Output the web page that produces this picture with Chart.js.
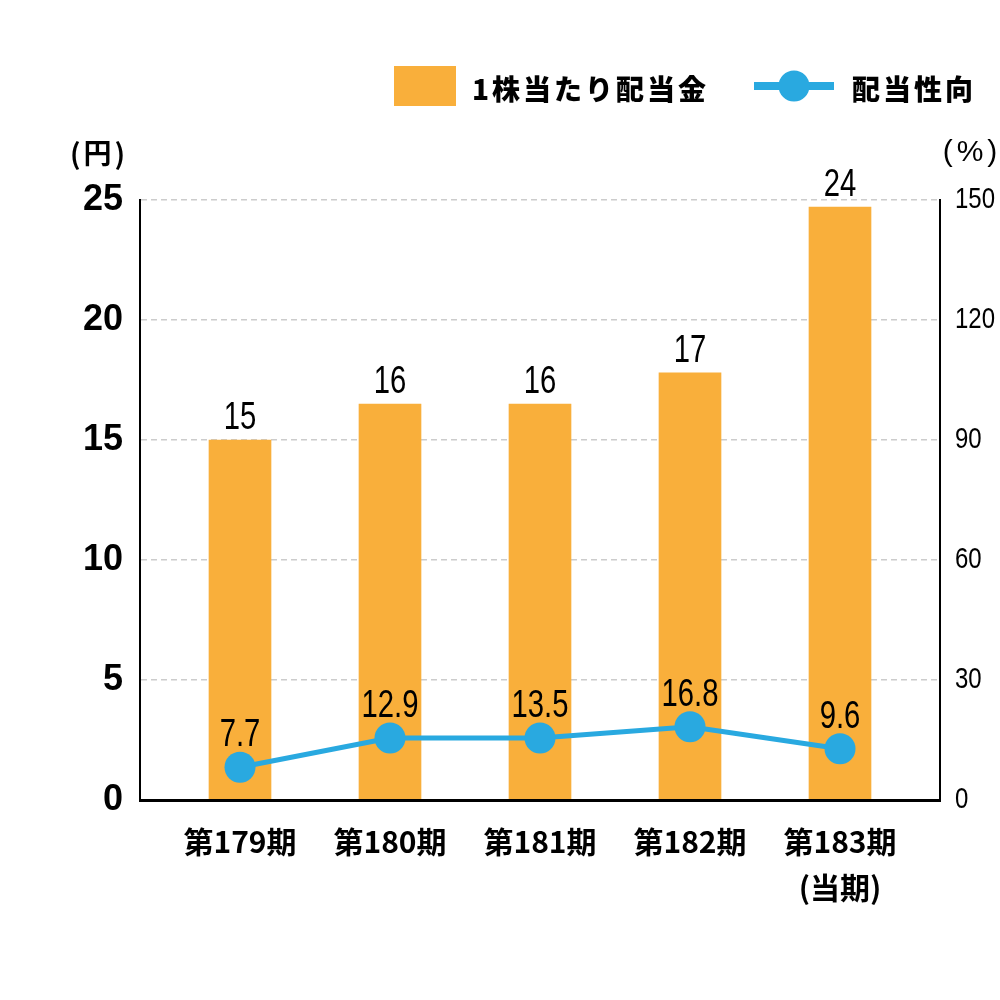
<!DOCTYPE html>
<html lang="ja">
<head>
<meta charset="utf-8">
<script src="https://cdn.jsdelivr.net/npm/chart.js@4.4.0/dist/chart.umd.min.js"></script>
<style>
  html, body { margin: 0; background: #fff; }
</style>
</head>
<body>
<canvas id="grafico" width="1000" height="1000"></canvas>
<script>
// dados
const periodos = ['第179期', '第180期', '第181期', '第182期', ['第183期', '(当期)']];
const dividendo = [15, 16.5, 16.5, 17.8, 24.7];          // altura das barras (円)
const rotulosDividendo = ['15', '16', '16', '17', '24'];
const payout = [8.2, 15.5, 15.5, 18.3, 12.8];            // posição dos pontos (%)
const rotulosPayout = ['7.7', '12.9', '13.5', '16.8', '9.6'];
const ticksEsquerda = [0, 5, 10, 15, 20, 25];
const ticksDireita = [0, 30, 60, 90, 120, 150];

const laranja = '#F9AF3B';
const azul = '#29A9E0';
const fonteCJK = '"Noto Sans CJK JP", "Noto Sans", sans-serif';
const fonteNum = '"Liberation Sans", Arial, sans-serif';

const ctx = document.getElementById('grafico').getContext('2d');

// texto "condensado" (escala horizontal)
function textoEstreito(c, texto, x, y, escala, align) {
    c.save();
    c.translate(x, y);
    c.scale(escala, 1);
    c.textAlign = align;
    c.fillText(texto, 0, 0);
    c.restore();
}

const pluginExtras = {
    id: 'extras',
    afterDraw(chart) {
        const c = chart.ctx;
        c.save();
        c.fillStyle = '#000';

        // rótulos das barras
        c.font = '39px ' + fonteNum;
        c.textBaseline = 'alphabetic';
        chart.getDatasetMeta(1).data.forEach((bar, i) => {
            textoEstreito(c, rotulosDividendo[i], bar.x, bar.y - 11, 0.75, 'center');
        });

        // rótulos da linha
        chart.getDatasetMeta(0).data.forEach((pt, i) => {
            textoEstreito(c, rotulosPayout[i], pt.x, pt.y - 21, 0.75, 'center');
        });

        // ticks do eixo direito
        const y2 = chart.scales.y2;
        c.font = '30px ' + fonteNum;
        c.textBaseline = 'middle';
        ticksDireita.forEach(v => {
            textoEstreito(c, String(v), y2.left + 15, y2.getPixelForValue(v), 0.8, 'left');
        });

        // unidades
        c.textAlign = 'center';
        c.font = 'bold 28px ' + fonteCJK;
        c.letterSpacing = '3px';
        c.fillText('(円)', 99, 153);
        c.font = '30px ' + fonteNum;
        c.letterSpacing = '4px';
        c.fillText('(%)', 972, 153);

        // legenda
        c.letterSpacing = '3px';
        c.textAlign = 'left';
        c.font = '900 28px ' + fonteCJK;
        c.fillStyle = laranja;
        c.fillRect(394, 66, 62, 40);
        c.fillStyle = '#000';
        c.fillText('1株当たり配当金', 472, 89);

        c.strokeStyle = azul;
        c.lineWidth = 8;
        c.beginPath();
        c.moveTo(754, 86);
        c.lineTo(834, 86);
        c.stroke();
        c.fillStyle = azul;
        c.beginPath();
        c.arc(794, 86, 15.5, 0, Math.PI * 2);
        c.fill();
        c.fillStyle = '#000';
        c.fillText('配当性向', 852, 89);

        c.restore();
    }
};

new Chart(ctx, {
    type: 'bar',
    data: {
        datasets: [
            {
                type: 'line',
                label: '配当性向',
                data: payout.map((v, i) => ({ x: i, y: v })),
                yAxisID: 'y2',
                borderColor: azul,
                borderWidth: 5,
                pointRadius: 15.5,
                pointBackgroundColor: azul,
                pointBorderWidth: 0,
                order: 0
            },
            {
                label: '1株当たり配当金',
                data: dividendo.map((v, i) => ({ x: i, y: v })),
                yAxisID: 'y',
                backgroundColor: laranja,
                barThickness: 62,
                order: 1
            }
        ]
    },
    options: {
        responsive: false,
        animation: false,
        layout: { padding: { top: 200, left: 0, right: 0, bottom: 0 } },
        plugins: {
            legend: { display: false },
            tooltip: { enabled: false }
        },
        scales: {
            x: {
                type: 'linear',
                offset: false,
                min: -2 / 3,
                max: 4 + 2 / 3,
                afterBuildTicks: (scale) => {
                    scale.ticks = periodos.map((p, i) => ({ value: i }));
                },
                afterFit: (scale) => { scale.height = 200; },
                grid: { display: false, offset: false },
                border: { color: '#000', width: 3, z: 1 },
                ticks: {
                    callback: (v) => periodos[v],
                    color: '#000',
                    padding: 10,
                    maxRotation: 0,
                    autoSkip: false,
                    font: { family: fonteCJK, size: 30, weight: 'bold', lineHeight: 1.55 }
                }
            },
            y: {
                position: 'left',
                min: 0,
                max: 25,
                afterBuildTicks: (scale) => {
                    scale.ticks = ticksEsquerda.map(v => ({ value: v }));
                },
                afterFit: (scale) => { scale.width = 140; },
                grid: {
                    color: (c) => c.tick && c.tick.value === 0 ? 'rgba(0,0,0,0)' : '#cccccc',
                    lineWidth: 1.5,
                    drawTicks: false
                },
                border: { color: '#000', width: 2, dash: [6, 4], z: 1 },
                ticks: {
                    color: '#000',
                    padding: 17,
                    font: { family: fonteNum, size: 36, weight: 'bold' }
                }
            },
            y2: {
                position: 'right',
                min: 0,
                max: 150,
                afterBuildTicks: (scale) => {
                    scale.ticks = ticksDireita.map(v => ({ value: v }));
                },
                afterFit: (scale) => { scale.width = 60; },
                grid: { drawOnChartArea: false, drawTicks: false },
                border: { color: '#000', width: 2, z: 1 },
                ticks: { display: false }
            }
        }
    },
    plugins: [pluginExtras]
});
</script>
</body>
</html>
